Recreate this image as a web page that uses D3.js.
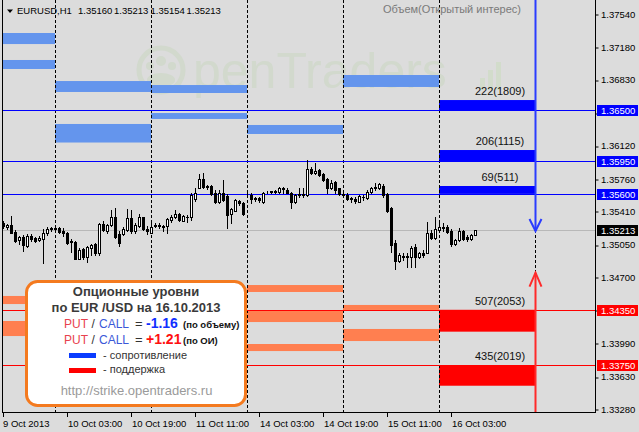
<!DOCTYPE html>
<html><head><meta charset="utf-8">
<script src="https://cdn.jsdelivr.net/npm/d3@7/dist/d3.min.js"></script>
<style>
body{margin:0;background:#dcdcdc;}
svg{display:block;font-family:"Liberation Sans",Arial,sans-serif;}
</style>
</head><body>
<svg id="c" width="639" height="432"></svg>
<script>
// ---------------- DATA ----------------
const symbol = "EURUSD,H1";
const firstBarTime = "2013-10-09T11:00";
const open = [1.35282,1.35239,1.35264,1.35192,1.35102,1.35138,1.35038,1.35149,1.35120,1.35102,1.35113,1.35174,1.35225,1.35228,1.35232,1.35203,1.35174,1.35095,1.35084,1.34898,1.35002,1.34916,1.35013,1.35056,1.34959,1.35272,1.35203,1.35261,1.35347,1.35167,1.35164,1.35210,1.35336,1.35203,1.35253,1.35351,1.35225,1.35182,1.35253,1.35264,1.35253,1.35253,1.35318,1.35354,1.35383,1.35311,1.35354,1.35347,1.35541,1.35667,1.35757,1.35685,1.35685,1.35606,1.35516,1.35613,1.35577,1.35383,1.35419,1.35519,1.35498,1.35606,1.35588,1.35552,1.35552,1.35516,1.35617,1.35620,1.35624,1.35624,1.35660,1.35642,1.35613,1.35516,1.35588,1.35588,1.35588,1.35865,1.35822,1.35857,1.35814,1.35757,1.35660,1.35732,1.35660,1.35599,1.35588,1.35552,1.35541,1.35516,1.35570,1.35552,1.35617,1.35670,1.35660,1.35685,1.35595,1.35444,1.35074,1.34880,1.34930,1.34923,1.34916,1.35023,1.34923,1.34959,1.34966,1.35182,1.35120,1.35210,1.35239,1.35246,1.35203,1.35059,1.35102,1.35203,1.35131,1.35109,1.35160];
const high = [1.35307,1.35275,1.35361,1.35210,1.35146,1.35156,1.35164,1.35164,1.35138,1.35146,1.35218,1.35239,1.35246,1.35253,1.35246,1.35228,1.35192,1.35109,1.35092,1.35013,1.35013,1.35038,1.35059,1.35066,1.35282,1.35311,1.35275,1.35426,1.35444,1.35203,1.35239,1.35433,1.35426,1.35282,1.35383,1.35354,1.35253,1.35318,1.35282,1.35282,1.35264,1.35336,1.35372,1.35426,1.35397,1.35372,1.35372,1.35606,1.35660,1.35811,1.35822,1.35696,1.35696,1.35642,1.35642,1.35750,1.35599,1.35444,1.35541,1.35534,1.35516,1.35624,1.35606,1.35570,1.35570,1.35624,1.35635,1.35635,1.35642,1.35678,1.35678,1.35660,1.35624,1.35599,1.35660,1.35660,1.35965,1.35893,1.35937,1.35865,1.35829,1.35768,1.35750,1.35742,1.35667,1.35613,1.35606,1.35570,1.35563,1.35588,1.35588,1.35642,1.35678,1.35714,1.35714,1.35703,1.35606,1.35462,1.35102,1.34959,1.34959,1.34959,1.35038,1.35059,1.34977,1.34995,1.35300,1.35210,1.35347,1.35300,1.35282,1.35264,1.35218,1.35109,1.35228,1.35210,1.35156,1.35167,1.35213];
const low = [1.35228,1.35218,1.35174,1.35084,1.35059,1.34987,1.35023,1.35095,1.35084,1.35092,1.34851,1.35156,1.35203,1.35192,1.35182,1.35146,1.35059,1.34977,1.34894,1.34894,1.34898,1.34869,1.34941,1.34941,1.34941,1.35203,1.35182,1.35253,1.35120,1.35038,1.35156,1.35203,1.35182,1.35182,1.35239,1.35210,1.35167,1.35174,1.35239,1.35228,1.35203,1.35174,1.35300,1.35343,1.35311,1.35304,1.35300,1.35318,1.35527,1.35660,1.35667,1.35653,1.35588,1.35498,1.35505,1.35527,1.35228,1.35282,1.35412,1.35480,1.35372,1.35588,1.35498,1.35527,1.35516,1.35505,1.35606,1.35606,1.35613,1.35613,1.35613,1.35606,1.35444,1.35505,1.35563,1.35570,1.35577,1.35814,1.35811,1.35793,1.35742,1.35606,1.35649,1.35606,1.35588,1.35570,1.35534,1.35516,1.35498,1.35509,1.35534,1.35541,1.35606,1.35642,1.35649,1.35570,1.35408,1.34977,1.34786,1.34869,1.34887,1.34815,1.34815,1.34815,1.34905,1.34923,1.34959,1.35109,1.35109,1.35192,1.35203,1.35182,1.35038,1.35049,1.35095,1.35102,1.35095,1.35102,1.35154];
const close = [1.35253,1.35264,1.35182,1.35095,1.35131,1.35049,1.35146,1.35109,1.35095,1.35128,1.35182,1.35218,1.35228,1.35218,1.35192,1.35174,1.35066,1.35081,1.34898,1.34995,1.34916,1.35023,1.35049,1.34959,1.35272,1.35210,1.35261,1.35347,1.35131,1.35066,1.35218,1.35336,1.35203,1.35261,1.35354,1.35218,1.35196,1.35246,1.35264,1.35253,1.35239,1.35325,1.35354,1.35383,1.35318,1.35361,1.35347,1.35588,1.35606,1.35757,1.35670,1.35678,1.35595,1.35516,1.35613,1.35534,1.35372,1.35433,1.35534,1.35498,1.35383,1.35613,1.35545,1.35545,1.35534,1.35613,1.35624,1.35627,1.35635,1.35660,1.35649,1.35613,1.35516,1.35588,1.35599,1.35599,1.35865,1.35822,1.35847,1.35803,1.35750,1.35660,1.35721,1.35642,1.35599,1.35584,1.35541,1.35541,1.35523,1.35577,1.35563,1.35624,1.35667,1.35663,1.35703,1.35588,1.35419,1.35049,1.34880,1.34941,1.34916,1.34930,1.35013,1.34923,1.34966,1.34941,1.35182,1.35120,1.35218,1.35246,1.35228,1.35192,1.35059,1.35102,1.35203,1.35109,1.35117,1.35156,1.35213];

const yTicks = [1.37540,1.37180,1.36830,1.36470,1.36120,1.35760,1.35410,1.35050,1.34700,1.34350,1.33990,1.33630,1.33280];
const xTickTimes = ["2013-10-09T11:00","2013-10-10T03:00","2013-10-10T19:00","2013-10-11T11:00","2013-10-14T03:00","2013-10-14T19:00","2013-10-15T11:00","2013-10-16T03:00"];
const xTickLabels = ["9 Oct 2013","10 Oct 03:00","10 Oct 19:00","11 Oct 11:00","14 Oct 03:00","14 Oct 19:00","15 Oct 11:00","16 Oct 03:00"];

// current day option levels (strike, break-even, volume, open interest)
const currentDay = "2013-10-16";
const resStrike = [1.36500, 1.35950, 1.35600];
const resEdge   = [1.36612, 1.36073, 1.35685];
const resVolume = [222, 206, 69];
const resOI     = [1809, 1115, 511];
const supStrike = [1.34350, 1.33750];
const supEdge   = [1.34114, 1.33531];
const supVolume = [507, 435];
const supOI     = [2053, 2019];
// earlier days' levels: [day, price1, price2]
const resHistory = [["2013-10-09",1.37335,1.37216],["2013-10-09",1.37044,1.36947],["2013-10-10",1.36817,1.36699],["2013-10-10",1.36354,1.36154],["2013-10-11",1.36774,1.36688],["2013-10-11",1.36472,1.36408],["2013-10-14",1.36343,1.36246],["2013-10-15",1.36882,1.36753]];
const supHistory = [["2013-10-09",1.34499,1.34412],["2013-10-09",1.34229,1.34067],["2013-10-14",1.34617,1.34542],["2013-10-14",1.34337,1.34218],["2013-10-14",1.33981,1.33905],["2013-10-15",1.34402,1.34348],["2013-10-15",1.34143,1.34013]];
const arrowTipRes = 1.35200;
const arrowTipSup = 1.34750;

const legendTitle = ["Опционные уровни", "по EUR /USD на 16.10.2013"];
const ratioVolume = "-1.16", ratioOI = "+1.21";
const legendItems = ["- сопротивление", "- поддержка"];
const legendUrl = "http://strike.opentraders.ru";
const volumeTitle = "Объем(Открытый интерес)";

// ---------------- CHART ----------------
const W = 639, H = 432;
const L = 2, R = 595, T = 0, B = 413;
const svg = d3.select("#c");
svg.append("rect").attr("width", W).attr("height", H).attr("fill", "#dcdcdc");

const parse = d3.utcParse("%Y-%m-%dT%H:%M");
const fmtDay = d3.utcFormat("%Y-%m-%d");
const times = [];
for (let t = parse(firstBarTime); times.length < 160; t = d3.utcHour.offset(t, 1)) {
  const wd = t.getUTCDay(); if (wd !== 0 && wd !== 6) times.push(t);
}
const idxOf = s => times.findIndex(t => +t === +parse(s));
const dayStart = day => { const i = times.findIndex(t => fmtDay(t) === day); return i - times[i].getUTCHours(); };

const x = d3.scaleLinear().domain([-0.25, 148]).range([L, R]);
const y = d3.scaleLinear().domain([1.33280, 1.37540]).range([409, 14]);

svg.append("defs").append("clipPath").attr("id", "pc").append("rect")
  .attr("x", L).attr("y", T).attr("width", R - L).attr("height", B - T);
const g = svg.append("g").attr("clip-path", "url(#pc)");

// watermark
const wm = g.append("g").attr("opacity", 0.45);
wm.append("circle").attr("cx", 161).attr("cy", 70).attr("r", 22).attr("fill", "none").attr("stroke", "#c6d6bc").attr("stroke-width", 5);
wm.append("circle").attr("cx", 161).attr("cy", 61).attr("r", 5).attr("fill", "#c6d6bc");
wm.append("circle").attr("cx", 150).attr("cy", 66).attr("r", 4).attr("fill", "#c6d6bc");
wm.append("circle").attr("cx", 172).attr("cy", 66).attr("r", 4).attr("fill", "#c6d6bc");
wm.append("ellipse").attr("cx", 161).attr("cy", 80).attr("rx", 14).attr("ry", 7).attr("fill", "#c6d6bc");
wm.append("text").attr("x", 193).attr("y", 88).attr("font-size", 50).attr("fill", "#c6d6bc").text("penTraders");
[[480,78,12],[488,70,20],[496,62,28]].forEach(([bx,by,bh]) => wm.append("rect").attr("x", bx).attr("y", by).attr("width", 5).attr("height", bh).attr("fill", "#c6dcb8"));

// history bars
const histBar = (data, color) => g.selectAll(null).data(data).join("rect")
  .attr("x", d => x(dayStart(d[0]))).attr("width", d => x(dayStart(d[0]) + 24) - x(dayStart(d[0])))
  .attr("y", d => y(Math.max(d[1], d[2]))).attr("height", d => Math.abs(y(d[1]) - y(d[2])))
  .attr("fill", color);
histBar(resHistory, "#6495ed");
histBar(supHistory, "#ff7f50");

// current day bars
const cx0 = x(dayStart(currentDay)), cx1 = x(dayStart(currentDay) + 24);
g.selectAll(null).data(resStrike).join("rect")
  .attr("x", cx0).attr("width", cx1 - cx0)
  .attr("y", (d, i) => y(resEdge[i])).attr("height", (d, i) => y(d) - y(resEdge[i])).attr("fill", "#0000ff");
g.selectAll(null).data(supStrike).join("rect")
  .attr("x", cx0).attr("width", cx1 - cx0)
  .attr("y", d => y(d)).attr("height", (d, i) => y(supEdge[i]) - y(d)).attr("fill", "#ff0000");

// day separators
const sepIdx = d3.range(times.length).filter(i => times[i].getUTCHours() === 0 && x(i) < R);
g.selectAll(null).data(sepIdx).join("line")
  .attr("x1", i => x(i) + 0.5).attr("x2", i => x(i) + 0.5).attr("y1", T).attr("y2", B)
  .attr("stroke", "#000").attr("stroke-dasharray", "3,2");

// level lines
const lastClose = close[close.length - 1];
g.append("line").attr("x1", L).attr("x2", R).attr("y1", Math.round(y(lastClose)) + 0.5).attr("y2", Math.round(y(lastClose)) + 0.5).attr("stroke", "#b8b8b8");
resStrike.forEach(p => g.append("line").attr("x1", L).attr("x2", R).attr("y1", Math.round(y(p)) + 0.5).attr("y2", Math.round(y(p)) + 0.5).attr("stroke", "#0000ff"));
supStrike.forEach(p => g.append("line").attr("x1", L).attr("x2", R).attr("y1", Math.round(y(p)) + 0.5).attr("y2", Math.round(y(p)) + 0.5).attr("stroke", "#ff0000"));

// candles
const idx = d3.range(close.length);
const cg = g.append("g").attr("shape-rendering", "crispEdges");
cg.selectAll(null).data(idx).join("line")
  .attr("x1", i => x(i) + 0.5).attr("x2", i => x(i) + 0.5)
  .attr("y1", i => Math.round(y(high[i]))).attr("y2", i => Math.round(y(low[i])) + 1)
  .attr("stroke", "#000");
cg.selectAll(null).data(idx.filter(i => close[i] < open[i])).join("rect")
  .attr("x", i => x(i) - 1).attr("width", 3)
  .attr("y", i => Math.round(y(open[i]))).attr("height", i => Math.max(1, Math.round(y(close[i])) - Math.round(y(open[i])) + 1))
  .attr("fill", "#000");
cg.selectAll(null).data(idx.filter(i => close[i] >= open[i])).join("rect")
  .attr("x", i => x(i) - 0.5).attr("width", 2)
  .attr("y", i => Math.round(y(close[i])) + 0.5).attr("height", i => Math.max(0, Math.round(y(open[i])) - Math.round(y(close[i]))))
  .attr("fill", "#fff").attr("stroke", "#000");

// volume labels
const volLab = (strikes, edges, vols, ois) => g.selectAll(null).data(strikes).join("text")
  .attr("x", (cx0 + cx1) / 2 + 13).attr("y", (d, i) => Math.min(y(d), y(edges[i])) - 5)
  .attr("text-anchor", "middle").attr("font-size", 11).attr("fill", "#111")
  .text((d, i) => `${vols[i]}(${ois[i]})`);
volLab(resStrike, resEdge, resVolume, resOI);
volLab(supStrike, supEdge, supVolume, supOI);

// arrows
const ax = x(dayStart(currentDay) + 24) + 0.5;
const arr = g.append("g").attr("fill", "none").attr("stroke-width", 2);
arr.append("line").attr("x1", ax).attr("x2", ax).attr("y1", T).attr("y2", y(arrowTipRes)).attr("stroke", "#2a3cff");
arr.append("polyline").attr("points", `${ax-6},${y(arrowTipRes)-12} ${ax},${y(arrowTipRes)} ${ax+6},${y(arrowTipRes)-12}`).attr("stroke", "#2a3cff");
arr.append("line").attr("x1", ax).attr("x2", ax).attr("y1", B).attr("y2", y(arrowTipSup)).attr("stroke", "#ff2a2a");
arr.append("polyline").attr("points", `${ax-6},${y(arrowTipSup)+14} ${ax},${y(arrowTipSup)} ${ax+6},${y(arrowTipSup)+14}`).attr("stroke", "#ff2a2a");

// header
svg.append("path").attr("d", "M7,9.5 L13,9.5 L10,13 Z").attr("fill", "#000");
const hdr = [symbol, open.at(-1), high.at(-1), low.at(-1), close.at(-1)];
const hdrX = [17, 78, 114, 150.5, 186.5];
svg.selectAll(null).data(hdr).join("text").attr("x", (d, i) => hdrX[i]).attr("y", 14)
  .attr("font-size", 9.5).attr("fill", "#000").text(d => typeof d === "number" ? d.toFixed(5) : d);
svg.append("text").attr("x", 452).attr("y", 13).attr("text-anchor", "middle").attr("font-size", 11).attr("fill", "#7a7a7a").text(volumeTitle);

// frame
svg.append("line").attr("x1", L + 0.5).attr("x2", L + 0.5).attr("y1", T).attr("y2", B).attr("stroke", "#000");
svg.append("line").attr("x1", R + 0.5).attr("x2", R + 0.5).attr("y1", T).attr("y2", B).attr("stroke", "#000");
svg.append("line").attr("x1", L).attr("x2", R + 1).attr("y1", B - 0.5).attr("y2", B - 0.5).attr("stroke", "#000");

// level tags
const tags = [...resStrike.map(p => [p, "#0000ff"]), [lastClose, "#000000"], ...supStrike.map(p => [p, "#ff0000"])];

// y axis (labels hidden behind a level tag are left out)
const yAxis = svg.append("g").attr("transform", `translate(${R + 0.5},0)`)
  .call(d3.axisRight(y).tickValues(yTicks).tickSize(3)
    .tickFormat(v => tags.some(t => Math.abs(y(t[0]) - y(v)) < 9) ? "" : d3.format(".5f")(v)));
yAxis.select(".domain").remove();
yAxis.selectAll("line").attr("transform", d => `translate(0,${Math.round(y(d)) + 0.5 - y(d)})`);
yAxis.selectAll("text").attr("font-size", 9.5).attr("font-family", "Liberation Sans, Arial, sans-serif").attr("x", 5.5);

const tg = svg.selectAll(null).data(tags).join("g").attr("transform", d => `translate(597,${Math.round(y(d[0]))})`);
tg.append("rect").attr("x", 0).attr("y", -5).attr("width", 41).attr("height", 11).attr("fill", d => d[1]);
tg.append("text").attr("x", 4).attr("y", 3.5).attr("font-size", 9.5).attr("fill", "#fff").text(d => d[0].toFixed(5));

// x axis
const xt = xTickTimes.map(idxOf);
svg.selectAll(null).data(xt).join("line").attr("x1", i => x(i) + 0.5).attr("x2", i => x(i) + 0.5)
  .attr("y1", B).attr("y2", B + 4).attr("stroke", "#000");
svg.selectAll(null).data(xt).join("text").attr("x", (i, k) => x(i) + (k === 0 ? 0 : 1)).attr("y", 427)
  .attr("font-size", 9.5).attr("fill", "#000").text((i, k) => xTickLabels[k]);

// legend box
const lg = svg.append("g");
lg.append("rect").attr("x", 26.5).attr("y", 281.5).attr("width", 219).attr("height", 124).attr("rx", 11)
  .attr("fill", "#fff").attr("stroke", "#f47a1f").attr("stroke-width", 3);
lg.selectAll(null).data(legendTitle).join("text").attr("x", 136).attr("y", (d, i) => 296 + i * 16)
  .attr("text-anchor", "middle").attr("font-size", 13).attr("font-weight", "bold").attr("fill", "#3a3a3a").text(d => d);
[[ratioVolume, "#1030ff", "(по объему)", 327.5], [ratioOI, "#ff1010", "(по ОИ)", 343.5]].forEach(([v, c, note, by]) => {
  const t = lg.append("text").attr("y", by).attr("font-size", 12);
  t.append("tspan").attr("x", 64).attr("fill", "#e8424e").text("PUT");
  t.append("tspan").attr("x", 91.5).attr("fill", "#333").text("/");
  t.append("tspan").attr("x", 99).attr("fill", "#3a58d8").text("CALL");
  t.append("tspan").attr("x", 135).attr("fill", "#333").attr("font-size", 13).text("=");
  t.append("tspan").attr("x", 146).attr("fill", c).attr("font-weight", "bold").attr("font-size", 14).text(v);
  t.append("tspan").attr("x", 183).attr("fill", "#111").attr("font-weight", "bold").attr("font-size", 9.5).text(note);
});
lg.selectAll(null).data(legendItems).join("rect").attr("x", 69).attr("y", (d, i) => 353 + i * 15).attr("width", 27).attr("height", 5)
  .attr("fill", (d, i) => i === 0 ? "#0a3cff" : "#ff0000");
lg.selectAll(null).data(legendItems).join("text").attr("x", 103).attr("y", (d, i) => 359 + i * 14)
  .attr("font-size", 11).attr("fill", "#333").text(d => d);
lg.append("text").attr("x", 136.5).attr("y", 395).attr("text-anchor", "middle").attr("font-size", 13).attr("fill", "#9a9a9a").text(legendUrl);
</script>
</body></html>
